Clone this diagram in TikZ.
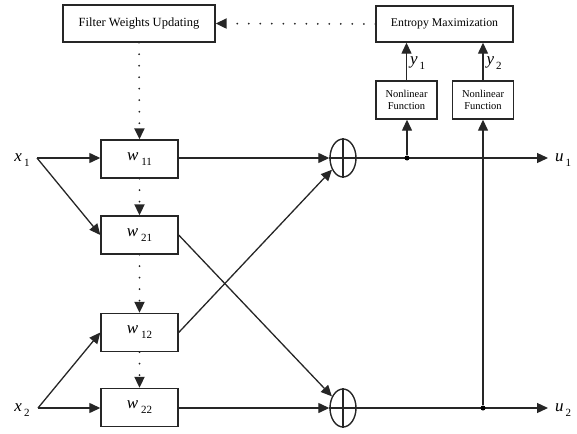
\documentclass[tikz,border=0pt]{standalone}
\usepackage{fontspec}
\setmainfont{Liberation Serif}
\usetikzlibrary{arrows.meta,shapes.geometric}
\begin{document}
\begin{tikzpicture}[x=1pt,y=-1pt,
  line width=1.3pt, draw=black!85,
  blk/.style={draw, line width=1.4pt, inner sep=0pt},
  nlbox/.style={draw, line width=1.4pt, inner sep=0pt, minimum width=61pt, minimum height=38pt, align=center, font=\fontsize{10.5}{12.5}\selectfont},
  wbox/.style={draw, line width=1.4pt, inner sep=0pt, minimum width=77pt, minimum height=38pt, font=\fontsize{17}{17}\selectfont},
  sumnode/.style={draw, ellipse, line width=1.4pt, inner sep=0pt, minimum width=26pt, minimum height=38pt},
  arr/.style={-{Triangle[length=11pt,width=10pt]}},
  dotarr/.style={-{Triangle[length=11pt,width=10pt]}, line width=2pt, line cap=round, dash pattern=on 0pt off 11.5pt},
  jdot/.style={circle, fill=black, inner sep=0pt, minimum size=5pt},
  lbl/.style={font=\fontsize{17}{17}\selectfont, inner sep=0pt}
]
\useasboundingbox (0,0) rectangle (577,433);
% blocks
\node[blk, minimum width=152pt, minimum height=37pt, font=\fontsize{12.5}{14}\selectfont] (filt) at (139,23.5) {Filter Weights Updating};
\node[blk, minimum width=137pt, minimum height=36pt, font=\fontsize{11.8}{14}\selectfont] (ent) at (444.5,24) {Entropy Maximization};
\node[nlbox] (nl1) at (406.5,100) {Nonlinear\\Function};
\node[nlbox] (nl2) at (483,100) {Nonlinear\\Function};
\newcommand{\wlab}[1]{\textit{w}\kern3pt\raisebox{-5pt}{\fontsize{11}{11}\selectfont #1}}
\newcommand{\sublab}[2]{\textit{#1}\kern2pt\raisebox{-5pt}{\fontsize{11}{11}\selectfont #2}}
\node[wbox] (w11) at (139.5,159) {\wlab{11}};
\node[wbox] (w21) at (139.5,235) {\wlab{21}};
\node[wbox] (w12) at (139.5,332.5) {\wlab{12}};
\node[wbox] (w22) at (139.5,407.5) {\wlab{22}};
\node[sumnode] (s1) at (343,158) {};
\node[sumnode] (s2) at (343,408) {};
\draw (s1.north) -- (s1.south);
\draw (s2.north) -- (s2.south);
\draw (s1.west) -- (s1.east);
\draw (s2.west) -- (s2.east);
% inputs
\coordinate (x1) at (37,158);
\coordinate (x2) at (38,408);
\node[lbl] (x1l) at (22,160) {\sublab{x}{1}};
\node[lbl] (x2l) at (22,410) {\sublab{x}{2}};
\draw[arr] (x1) -- (w11.west |- x1);
\draw[arr] (x1) -- (w21.west);
\draw[arr] (x2) -- (w22.west |- x2);
\draw[arr] (x2) -- (w12.west);
% to sums
\draw[arr] (w11.east |- s1) -- (s1.west);
\draw[arr] (w22.east |- s2) -- (s2.west);
\draw[arr] (w21.east) -- (s2);
\draw[arr] (w12.east) -- (s1);
% outputs
\coordinate (u1e) at (548,158);
\coordinate (u2e) at (548,408);
\node[lbl] (u1l) at (563,160) {\sublab{u}{1}};
\node[lbl] (u2l) at (563,410) {\sublab{u}{2}};
\draw[arr] (s1.east) -- (u1e);
\draw[arr] (s2.east) -- (u2e);
\node[jdot] (d1) at (407,158) {};
\node[jdot] (d2) at (483,408) {};
\draw[arr] (d1) -- (d1 |- nl1.south);
\draw[arr] (d2) -- (nl2.south);
\draw[arr] (nl1.north) -- (nl1.north |- ent.south) node[pos=0.45, right=3pt, lbl] (y1l) {\sublab{y}{1}};
\draw[arr] (nl2.north) -- (nl2.north |- ent.south) node[pos=0.45, right=3pt, lbl] (y2l) {\sublab{y}{2}};
% dotted feedback
\draw[dotarr] (ent.west) -- (filt.east);
\draw[dotarr] (filt.south) -- (w11.north);
\draw[dotarr] (w11.south) -- (w21.north);
\draw[dotarr] (w21.south) -- (w12.north);
\draw[dotarr] (w12.south) -- (w22.north);
\end{tikzpicture}
\end{document}
